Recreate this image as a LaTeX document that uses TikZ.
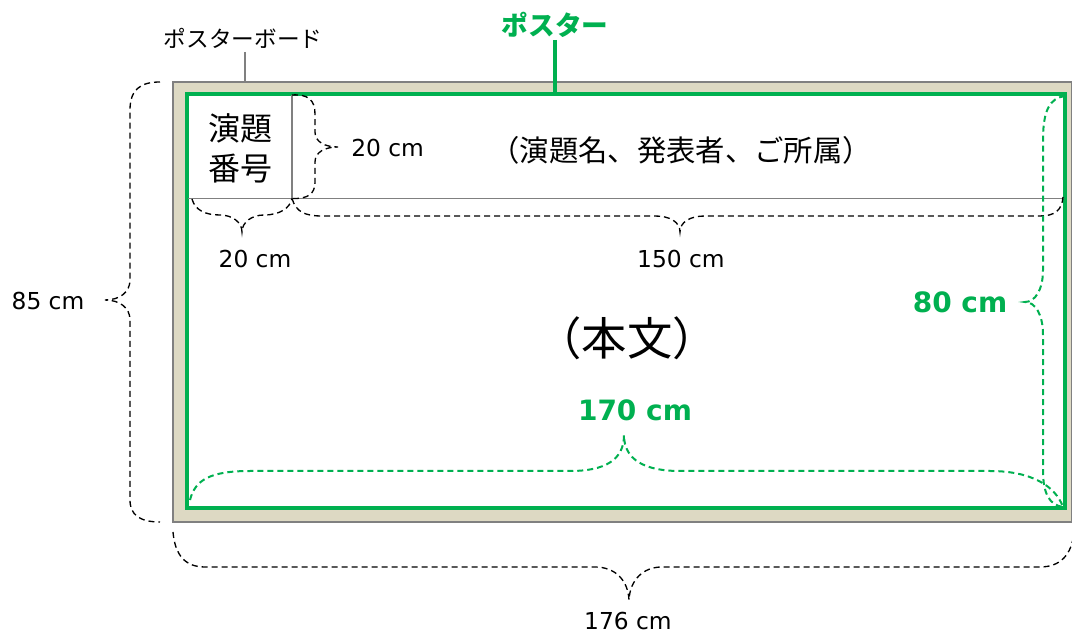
\documentclass[tikz,border=0pt]{standalone}
\usepackage{fontspec}
\setmainfont{DejaVu Sans}
\newfontfamily\jp{Noto Sans CJK JP}
\definecolor{pgreen}{HTML}{00B050}
\definecolor{board}{HTML}{DDD9C3}
\definecolor{bgrey}{HTML}{808080}
\begin{document}
\begin{tikzpicture}[x=0.75pt,y=-0.75pt,
  brace/.style={black,dashed,dash pattern=on 4.5pt off 3pt,line width=1pt},
  gbrace/.style={pgreen,dashed,dash pattern=on 4.5pt off 3pt,line width=1.5pt},
  lbl/.style={font=\fontsize{17.5}{20}\selectfont,inner sep=0pt},
  glbl/.style={font=\fontsize{21}{24}\selectfont\bfseries,text=pgreen,inner sep=0pt},
  jplbl/.style={font=\jp\fontsize{17}{20}\selectfont,inner sep=0pt}]
\useasboundingbox (0,0) rectangle (1072,634);
% board
\draw[bgrey,fill=board,line width=1.2pt] (173,82) rectangle (1071.5,522);
% poster
\draw[pgreen,fill=white,line width=2.3pt] (187,94) rectangle (1065,508);
% header lines
\coordinate (hl) at (187.5,198.5);
\coordinate (hr) at (1064,198.5);
\coordinate (vt) at (292,95);
\coordinate (vb) at (292,198.5);
\draw[bgrey,line width=0.8pt] (hl) -- (hr);
\draw[bgrey,line width=0.8pt] (vt) -- (vb);
% texts
\node[font=\jp\fontsize{24}{30}\selectfont,align=center,inner sep=0pt] (num) at (240,148) {演題\\番号};
\node[font=\jp\fontsize{22}{24}\selectfont,inner sep=0pt] (title) at (681,150) {（演題名、発表者、ご所属）};
\node[font=\jp\fontsize{34}{36}\selectfont,inner sep=0pt] (body) at (627,338) {（本文）};
\node[jplbl] (boardlbl) at (243,38) {ポスターボード};
\node[font=\jp\fontsize{20}{24}\selectfont\bfseries,text=pgreen,inner sep=0pt] (posterlbl) at (555,25) {ポスター};
\coordinate (bt) at (245,82);
\coordinate (pt) at (555,93);
\draw[bgrey,line width=0.8pt] (245,52) -- (bt);
\draw[pgreen,line width=2.3pt] (555,40) -- (pt);
% dimension labels
\node[lbl,anchor=west] (d20a) at (351,148) {20 cm};
\node[lbl] (d20b) at (255,259) {20 cm};
\node[lbl] (d150) at (681,259) {150 cm};
\node[lbl] (d85) at (48,301) {85 cm};
\node[lbl] (d176) at (628,621) {176 cm};
\node[glbl] (d80) at (960,302) {80 cm};
\node[glbl] (d170) at (635,410) {170 cm};
% braces
\draw[brace] (160,82) .. controls (140,82) and (130,90) .. (130,110) -- (130,280)
  .. controls (130,292) and (120,300) .. (105,300)
  .. controls (120,300) and (130,308) .. (130,320) -- (130,500)
  .. controls (130,515) and (140,522) .. (160,522);
\draw[brace] (vt) .. controls (308,94) and (315,100) .. (315,114) -- (315,132)
  .. controls (315,142) and (325,147) .. (338,147)
  .. controls (325,147) and (315,152) .. (315,162) -- (315,182)
  .. controls (315,194) and (308,199) .. (vb);
\draw[brace] (192,199) .. controls (195,210) and (205,215) .. (220,215)
  .. controls (232,215) and (242,222) .. (242,232)
  .. controls (242,222) and (252,215) .. (264,215)
  .. controls (280,215) and (290,208) .. (vb);
\draw[brace] (vb) .. controls (296,212) and (305,216) .. (322,216) -- (655,216)
  .. controls (670,216) and (680,222) .. (680,232)
  .. controls (680,222) and (690,216) .. (705,216) -- (1040,216)
  .. controls (1055,216) and (1062,210) .. (1063,197);
\draw[brace] (173,532) .. controls (175,555) and (185,567) .. (205,567) -- (595,567)
  .. controls (615,567) and (628,580) .. (629,600)
  .. controls (630,580) and (643,567) .. (662,567) -- (1040,567)
  .. controls (1060,567) and (1072,555) .. (1074,532);
\draw[gbrace] (1065,96) .. controls (1050,98) and (1043,110) .. (1043,140) -- (1043,270)
  .. controls (1043,290) and (1035,302) .. (1025,302)
  .. controls (1035,302) and (1043,314) .. (1043,335) -- (1043,470)
  .. controls (1043,495) and (1050,505) .. (1063,507);
\draw[gbrace] (190,500) .. controls (195,480) and (210,471) .. (250,471) -- (570,471)
  .. controls (605,471) and (624,460) .. (624,435)
  .. controls (624,460) and (645,471) .. (680,471) -- (990,471)
  .. controls (1030,471) and (1055,485) .. (1063,507);
\end{tikzpicture}
\end{document}
